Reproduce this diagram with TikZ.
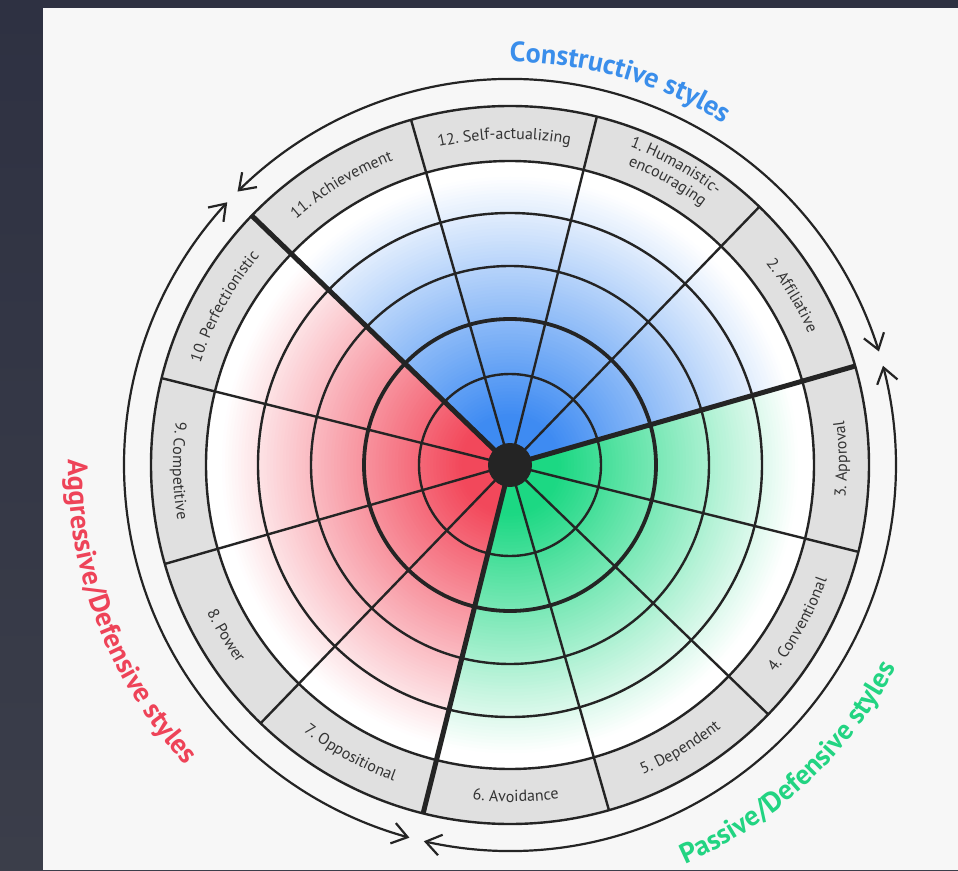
\documentclass[tikz,border=0pt]{standalone}
\usepackage{fontspec}
\setmainfont{PT Sans}
\usetikzlibrary{arrows.meta,decorations.text,bending}
\definecolor{bgtop}{HTML}{2E3142}
\definecolor{bgbot}{HTML}{3B3E4A}
\definecolor{panel}{HTML}{F7F7F7}
\definecolor{band}{HTML}{E0E0E0}
\definecolor{ink}{HTML}{242424}
\definecolor{lab}{HTML}{333333}
\definecolor{blueC}{HTML}{3E8BF2}
\definecolor{redC}{HTML}{F2485B}
\definecolor{greenC}{HTML}{1CD883}
\definecolor{blueT}{HTML}{3A8EEB}
\definecolor{redT}{HTML}{EE4358}
\definecolor{greenT}{HTML}{22D482}
\newcommand{\lblfnt}{\fontsize{16}{18}\selectfont\color{lab}}
\newcommand{\ttlfnt}{\fontsize{28}{32}\selectfont\bfseries}
\newcommand{\cwlabel}[3]{%
  \path[decorate,decoration={text along path, text align=center, text={|\lblfnt|#3}}]
    ({#1+25}:#2pt) arc[start angle={#1+25}, end angle={#1-25}, radius=#2pt];}
\newcommand{\ccwlabel}[3]{%
  \path[decorate,decoration={text along path, text align=center, text={|\lblfnt|#3}}]
    ({#1-25}:#2pt) arc[start angle={#1-25}, end angle={#1+25}, radius=#2pt];}
\newcommand{\gradsector}[3]{% start angle, end angle, colour
  \begin{scope}
    \clip (0,0) -- (#1:310pt) arc[start angle=#1,end angle=#2,radius=310pt] -- cycle;
    \foreach \i in {0,...,89} {
      \pgfmathsetmacro\rr{304-\i*3.2}
      \pgfmathsetmacro\pp{max(0,min(100,(290-\rr)/2.4))}
      \fill[#3!\pp!white] (0,0) circle[radius=\rr pt];
    }
  \end{scope}}
\tikzset{
  thinline/.style={draw=ink, line width=2.4pt},
  ringthick/.style={draw=ink, line width=3.8pt},
  divline/.style={draw=ink, line width=5pt},
  arrowarc/.style={draw=ink, line width=2.2pt,
    {Straight Barb[length=15pt,width=21pt,flex]}-{Straight Barb[length=15pt,width=21pt,flex]}},
  hubdot/.style={circle, fill=ink, minimum size=44pt, inner sep=0pt}
}
\begin{document}
\begin{tikzpicture}
\useasboundingbox (-510pt,-405pt) rectangle (448pt,465pt);
\shade[top color=bgtop, bottom color=bgbot] (-510pt,-405pt) rectangle (448pt,465pt);
\fill[panel] (-467pt,-405pt) rectangle (448pt,457pt);
% label band and inner disc
\fill[band] (0,0) circle[radius=359pt];
\fill[white] (0,0) circle[radius=304pt];
% coloured sectors
\gradsector{16}{136}{blueC}
\gradsector{136}{256}{redC}
\gradsector{256}{376}{greenC}
% rings
\foreach \r in {91,199,252,304,359} \draw[thinline] (0,0) circle[radius=\r pt];
\draw[ringthick] (0,0) circle[radius=146pt];
% spokes
\foreach \a in {46,76,106,166,196,226,286,316,346} \draw[thinline] (\a:15pt) -- (\a:359pt);
\foreach \a in {16,136,256} \draw[divline] (\a:15pt) -- (\a:359pt);
\node[hubdot] (hub) at (0,0) {};
% segment labels
\cwlabel{151}{326}{10. Perfectionistic}
\cwlabel{121}{326}{11. Achievement}
\cwlabel{91}{326}{12. Self-actualizing}
\cwlabel{61}{340}{1. Humanistic-}
\cwlabel{61}{322}{encouraging}
\cwlabel{31}{326}{2. Affiliative}
\ccwlabel{1}{337}{3. Approval}
\ccwlabel{-29}{337}{4. Conventional}
\ccwlabel{-59}{337}{5. Dependent}
\ccwlabel{-89}{337}{6. Avoidance}
\ccwlabel{-119}{337}{7. Oppositional}
\ccwlabel{-149}{337}{8. Power}
\ccwlabel{181}{337}{9. Competitive}
% outer arrows
\draw[arrowarc] (17.1:386pt) arc[start angle=17.1, end angle=134.9, radius=386pt];
\draw[arrowarc] (137.1:386pt) arc[start angle=137.1, end angle=254.9, radius=386pt];
\draw[arrowarc] (257.1:386pt) arc[start angle=257.1, end angle=374.9, radius=386pt];
% group titles
\path[decorate,decoration={text along path, text align=center, text={|\ttlfnt\color{blueT}|Constructive styles}}]
  (114:403pt) arc[start angle=114, end angle=34, radius=403pt];
\path[decorate,decoration={text along path, text align=center, text={|\ttlfnt\color{redT}|Aggressive/Defensive styles}}]
  (156:442pt) arc[start angle=156, end angle=246, radius=442pt];
\path[decorate,decoration={text along path, text align=center, text={|\ttlfnt\color{greenT}|Passive/Defensive styles}}]
  (-92:436pt) arc[start angle=-92, end angle=-2, radius=436pt];
\end{tikzpicture}
\end{document}
